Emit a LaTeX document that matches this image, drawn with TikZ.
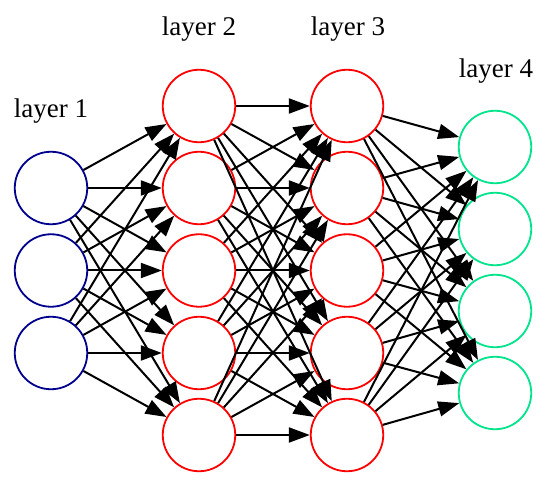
\documentclass[tikz,border=0pt]{standalone}
\usepackage{fontspec}
\setmainfont{Liberation Serif}
\usetikzlibrary{arrows.meta}
\definecolor{bluec}{RGB}{0,0,140}
\definecolor{redc}{RGB}{255,0,0}
\definecolor{greenc}{RGB}{0,228,140}
\begin{document}
\begin{tikzpicture}[x=1pt,y=-1pt,
  neuron/.style={circle,draw,line width=1.8pt,minimum size=72.5pt,inner sep=0pt},
  inl/.style={neuron,draw=bluec},
  hid/.style={neuron,draw=redc},
  outl/.style={neuron,draw=greenc},
  lab/.style={anchor=base,font=\fontsize{27}{30}\selectfont,inner sep=0pt},
  conn/.style={line width=2pt,-{Triangle[length=21pt,width=15pt]}}]
\useasboundingbox (0,0) rectangle (550,484);
% layer labels
\node[lab] (t1) at (51,118) {layer 1};
\node[lab] (t2) at (199,36) {layer 2};
\node[lab] (t3) at (348,36) {layer 3};
\node[lab] (t4) at (496,78) {layer 4};
% layer 1
\foreach \i/\y in {1/188,2/270.5,3/353}
  \node[inl] (a\i) at (51,\y) {};
% layer 2 and 3
\foreach \i/\y in {1/106,2/188,3/270.5,4/353,5/435}{
  \node[hid] (b\i) at (199,\y) {};
  \node[hid] (c\i) at (347,\y) {};
}
% layer 4
\foreach \i/\y in {1/147,2/229,3/311,4/393}
  \node[outl] (d\i) at (495,\y) {};
% connections
\foreach \i in {1,2,3}
  \foreach \j in {1,...,5}
    \draw[conn] (a\i) -- (b\j);
\foreach \i in {1,...,5}
  \foreach \j in {1,...,5}
    \draw[conn] (b\i) -- (c\j);
\foreach \i in {1,...,5}
  \foreach \j in {1,...,4}
    \draw[conn] (c\i) -- (d\j);
\end{tikzpicture}
\end{document}
